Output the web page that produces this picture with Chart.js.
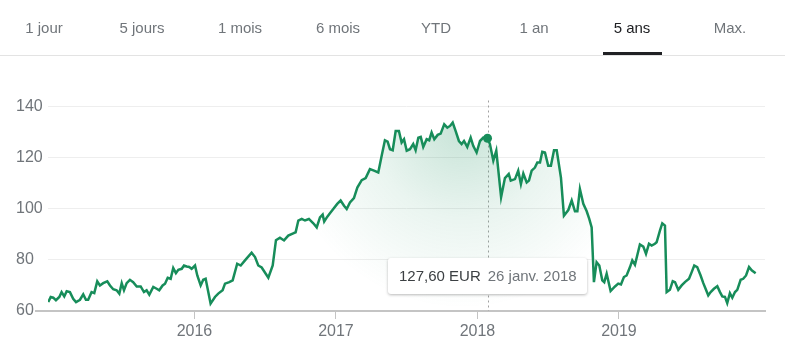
<!DOCTYPE html>
<html lang="fr">
<head>
<meta charset="utf-8">
<script src="https://cdn.jsdelivr.net/npm/chart.js@4.4.1/dist/chart.umd.min.js"></script>
<style>
  body { margin: 0; background: #fff; font-family: "Liberation Sans", Arial, sans-serif; }
  #page { position: relative; width: 785px; height: 352px; overflow: hidden; }
  #tabs { position: absolute; left: -5px; top: 0; height: 55px; width: 800px; display: flex; }
  #sep { position: absolute; left: 0; top: 55px; width: 785px; height: 1px; background: #e3e3e3; }
  .tab { position: relative; width: 98px; text-align: center; font-size: 15px; line-height: 55px; color: #70757a; white-space: nowrap; }
  .tab.on { color: #202124; }
  .tab.on::after { content: ""; position: absolute; left: 50%; margin-left: -29px; width: 59px; bottom: 0; height: 3px; background: #202124; }
  #chart-box { position: absolute; left: 0; top: 0; width: 785px; height: 352px; }
  #tip { position: absolute; height: 36px; line-height: 36px; padding: 0 10px 0 11px; background: #fff; border-radius: 3px;
         box-shadow: 0 1px 3px rgba(0,0,0,0.28); font-size: 15px; white-space: nowrap; display: none; }
  #tip .price { color: #3c4043; margin-right: 7px; }
  #tip .date { color: #70757a; }
</style>
</head>
<body>
<div id="page">
  <div id="chart-box"><canvas id="chart" width="785" height="352"></canvas></div>
  <div id="tabs"></div>
  <div id="sep"></div>
  <div id="tip"><span class="price"></span><span class="date"></span></div>
</div>
<script>
const tabLabels = ['1 jour', '5 jours', '1 mois', '6 mois', 'YTD', '1 an', '5 ans', 'Max.'];
const activeTab = '5 ans';

// dates as decimal years, weekly-ish closes
const dates = [
  2014.967, 2014.984, 2015.002, 2015.021, 2015.045, 2015.061, 2015.080, 2015.097, 2015.120, 2015.143,
  2015.163, 2015.191, 2015.214, 2015.233, 2015.249, 2015.273, 2015.292, 2015.313, 2015.332, 2015.355,
  2015.384, 2015.403, 2015.426, 2015.450, 2015.469, 2015.486, 2015.502, 2015.521, 2015.544, 2015.567,
  2015.592, 2015.620, 2015.643, 2015.662, 2015.681, 2015.709, 2015.733, 2015.751, 2015.775, 2015.792,
  2015.811, 2015.832, 2015.850, 2015.869, 2015.886, 2015.910, 2015.926, 2015.945, 2015.963, 2015.980,
  2016.004, 2016.020, 2016.044, 2016.062, 2016.079, 2016.114, 2016.145, 2016.168, 2016.199, 2016.216,
  2016.246, 2016.270, 2016.302, 2016.327, 2016.357, 2016.404, 2016.428, 2016.451, 2016.475, 2016.522,
  2016.553, 2016.576, 2016.604, 2016.633, 2016.663, 2016.698, 2016.715, 2016.734, 2016.758, 2016.781,
  2016.809, 2016.840, 2016.864, 2016.887, 2016.906, 2016.917, 2016.939, 2016.963, 2016.981, 2017.009,
  2017.033, 2017.057, 2017.076, 2017.099, 2017.127, 2017.151, 2017.182, 2017.210, 2017.240, 2017.269,
  2017.299, 2017.323, 2017.346, 2017.365, 2017.382, 2017.401, 2017.422, 2017.445, 2017.464, 2017.481,
  2017.500, 2017.523, 2017.546, 2017.563, 2017.582, 2017.599, 2017.617, 2017.641, 2017.659, 2017.676,
  2017.695, 2017.719, 2017.740, 2017.765, 2017.787, 2017.806, 2017.825, 2017.846, 2017.869, 2017.888,
  2017.905, 2017.928, 2017.952, 2017.970, 2017.994, 2018.018, 2018.041, 2018.071, 2018.088, 2018.112,
  2018.133, 2018.167, 2018.194, 2018.221, 2018.235, 2018.265, 2018.288, 2018.307, 2018.324, 2018.348,
  2018.364, 2018.383, 2018.406, 2018.423, 2018.442, 2018.458, 2018.477, 2018.500, 2018.519, 2018.541,
  2018.560, 2018.590, 2018.611, 2018.642, 2018.666, 2018.689, 2018.706, 2018.724, 2018.748, 2018.772,
  2018.790, 2018.807, 2018.823, 2018.842, 2018.861, 2018.882, 2018.896, 2018.913, 2018.941, 2018.972,
  2018.995, 2019.014, 2019.035, 2019.054, 2019.078, 2019.094, 2019.113, 2019.148, 2019.172, 2019.191,
  2019.212, 2019.231, 2019.254, 2019.266, 2019.290, 2019.306, 2019.325, 2019.337, 2019.360, 2019.380,
  2019.396, 2019.419, 2019.443, 2019.466, 2019.495, 2019.514, 2019.532, 2019.553, 2019.577, 2019.596,
  2019.615, 2019.631, 2019.648, 2019.671, 2019.695, 2019.714, 2019.730, 2019.749, 2019.765, 2019.784,
  2019.801, 2019.820, 2019.836, 2019.860, 2019.878, 2019.898, 2019.919, 2019.938, 2019.966
];
const prices = [
  63.5, 65.5, 65.2, 64.2, 65.5, 67.4, 65.7, 67.7, 67.4, 64.8,
  63.5, 64.4, 66.5, 64.4, 64.4, 67.4, 67.0, 71.6, 70.0, 70.9,
  71.6, 70.0, 68.5, 68.1, 66.8, 70.9, 68.1, 70.9, 72.2, 71.3,
  69.6, 69.6, 67.4, 68.1, 66.4, 69.4, 68.7, 68.1, 70.0, 70.7,
  73.0, 72.6, 76.8, 74.8, 76.1, 76.5, 77.8, 77.4, 77.2, 76.5,
  77.8, 73.9, 70.0, 72.2, 72.6, 62.9, 65.5, 66.8, 68.1, 70.7,
  71.3, 72.0, 78.5, 77.8, 79.8, 82.8, 81.1, 77.8, 77.0, 73.0,
  77.8, 87.7, 88.7, 87.6, 89.5, 90.4, 90.8, 95.4, 96.0, 95.4,
  96.0, 94.3, 92.7, 96.6, 97.7, 95.0, 96.9, 98.6, 99.9, 101.9,
  103.2, 101.2, 99.9, 102.5, 104.2, 108.3, 111.2, 112.0, 115.5, 114.9,
  114.2, 120.7, 126.8, 126.3, 123.3, 122.9, 130.4, 130.4, 125.9, 127.2,
  122.7, 123.3, 125.3, 122.9, 127.8, 128.1, 124.2, 127.2, 126.8, 129.8,
  127.2, 128.9, 129.4, 133.0, 131.7, 132.4, 133.7, 130.4, 126.5, 125.3,
  126.5, 124.2, 127.8, 124.6, 122.0, 126.5, 127.8, 127.6, 125.3, 118.8,
  122.7, 104.5, 112.0, 113.6, 111.0, 111.6, 114.9, 109.7, 113.8, 110.3,
  111.0, 114.9, 116.1, 118.1, 118.1, 122.3, 122.0, 116.8, 116.8, 122.9,
  122.9, 112.2, 97.3, 99.5, 103.2, 99.0, 99.0, 107.7, 101.9, 99.0,
  96.0, 92.7, 71.3, 79.1, 77.8, 72.0, 71.3, 74.6, 67.8, 69.6,
  70.7, 70.4, 73.3, 73.9, 77.2, 79.8, 78.1, 86.0, 85.2, 82.4,
  86.3, 85.6, 86.3, 86.9, 91.5, 94.3, 93.4, 67.4, 68.3, 71.7,
  71.3, 68.3, 70.0, 71.3, 72.6, 75.2, 77.8, 77.2, 73.9, 70.9,
  68.3, 66.1, 67.4, 68.7, 69.7, 67.4, 65.7, 65.5, 63.1, 67.0,
  65.2, 67.4, 68.3, 72.2, 72.6, 73.9, 77.2, 75.9, 74.8
];
const yearTicks = [2016, 2017, 2018, 2019];
const priceTicks = [60, 80, 100, 120, 140];

const hoverIndex = dates.indexOf(2018.071);
const tooltipPrice = '127,60 EUR';
const tooltipDate = '26 janv. 2018';

const green = '#178d5a';

// tabs
const tabs = document.getElementById('tabs');
tabLabels.forEach(t => {
  const d = document.createElement('div');
  d.className = 'tab' + (t === activeTab ? ' on' : '');
  d.textContent = t;
  tabs.appendChild(d);
});

const tip = document.getElementById('tip');
tip.querySelector('.price').textContent = tooltipPrice;
tip.querySelector('.date').textContent = tooltipDate;

const hoverLine = {
  id: 'hoverLine',
  beforeDatasetsDraw(chart) {
    const { ctx, chartArea, scales } = chart;
    const x = Math.round(scales.x.getPixelForValue(dates[hoverIndex])) + 0.5;
    ctx.save();
    ctx.strokeStyle = '#a0a0a0';
    ctx.lineWidth = 1;
    ctx.setLineDash([2, 3]);
    ctx.beginPath();
    ctx.moveTo(x, chartArea.top - 6);
    ctx.lineTo(x, chartArea.bottom);
    ctx.stroke();
    ctx.restore();
  },
  afterRender(chart) {
    const { chartArea, scales } = chart;
    const x = scales.x.getPixelForValue(dates[hoverIndex]);
    tip.style.display = 'block';
    tip.style.left = (x - tip.offsetWidth / 2) + 'px';
    tip.style.top = (chartArea.bottom - 53) + 'px';
  }
};

new Chart(document.getElementById('chart'), {
  type: 'line',
  data: {
    datasets: [{
      data: dates.map((d, i) => ({ x: d, y: prices[i] })),
      borderColor: green,
      borderWidth: 2.5,
      tension: 0,
      fill: 'start',
      backgroundColor: (c) => {
        const ch = c.chart;
        if (!ch.chartArea || !ch.scales.x) return 'rgba(0,0,0,0)';
        const x = ch.scales.x.getPixelForValue(dates[hoverIndex]) - 25;
        const y = ch.scales.y.getPixelForValue(prices[hoverIndex]) - 10;
        const g = ch.ctx.createRadialGradient(x, y, 0, x, y, 180);
        g.addColorStop(0, 'rgba(23,141,90,0.24)');
        g.addColorStop(0.5, 'rgba(23,141,90,0.09)');
        g.addColorStop(1, 'rgba(23,141,90,0)');
        return g;
      },
      pointRadius: (c) => c.dataIndex === hoverIndex ? 4.5 : 0,
      pointBackgroundColor: green,
      pointBorderWidth: 0
    }]
  },
  options: {
    responsive: false,
    animation: false,
    events: [],
    layout: { padding: { top: 106.5, right: 20, left: 16, bottom: 0 } },
    plugins: { legend: { display: false }, tooltip: { enabled: false } },
    scales: {
      x: {
        type: 'linear',
        min: 2014.965,
        max: 2020.032,
        afterBuildTicks: (s) => { s.ticks = yearTicks.map(v => ({ value: v })); },
        afterFit: (s) => { s.height = 41; },
        ticks: {
          color: '#70757a',
          font: { family: '"Liberation Sans", Arial, sans-serif', size: 16 },
          padding: 3,
          maxRotation: 0,
          callback: (v) => String(v)
        },
        grid: { drawOnChartArea: false, tickLength: 8, color: '#c4c4c4', lineWidth: 1 },
        border: { display: true, color: '#c4c4c4', width: 2 }
      },
      y: {
        min: 60,
        max: 140,
        afterBuildTicks: (s) => { s.ticks = priceTicks.map(v => ({ value: v })); },
        afterFit: (s) => { s.width = 32; },
        ticks: {
          color: '#70757a',
          font: { family: '"Liberation Sans", Arial, sans-serif', size: 16 },
          crossAlign: 'far',
          padding: 0
        },
        grid: {
          color: (c) => c.tick && c.tick.value === 60 ? 'rgba(0,0,0,0)' : '#eeeeee',
          tickColor: (c) => c.tick && c.tick.value === 60 ? '#c4c4c4' : 'rgba(0,0,0,0)',
          tickLength: 13,
          lineWidth: (c) => c.tick && c.tick.value === 60 ? 2 : 1
        },
        border: { display: false }
      }
    }
  },
  plugins: [hoverLine]
});
</script>
</body>
</html>
